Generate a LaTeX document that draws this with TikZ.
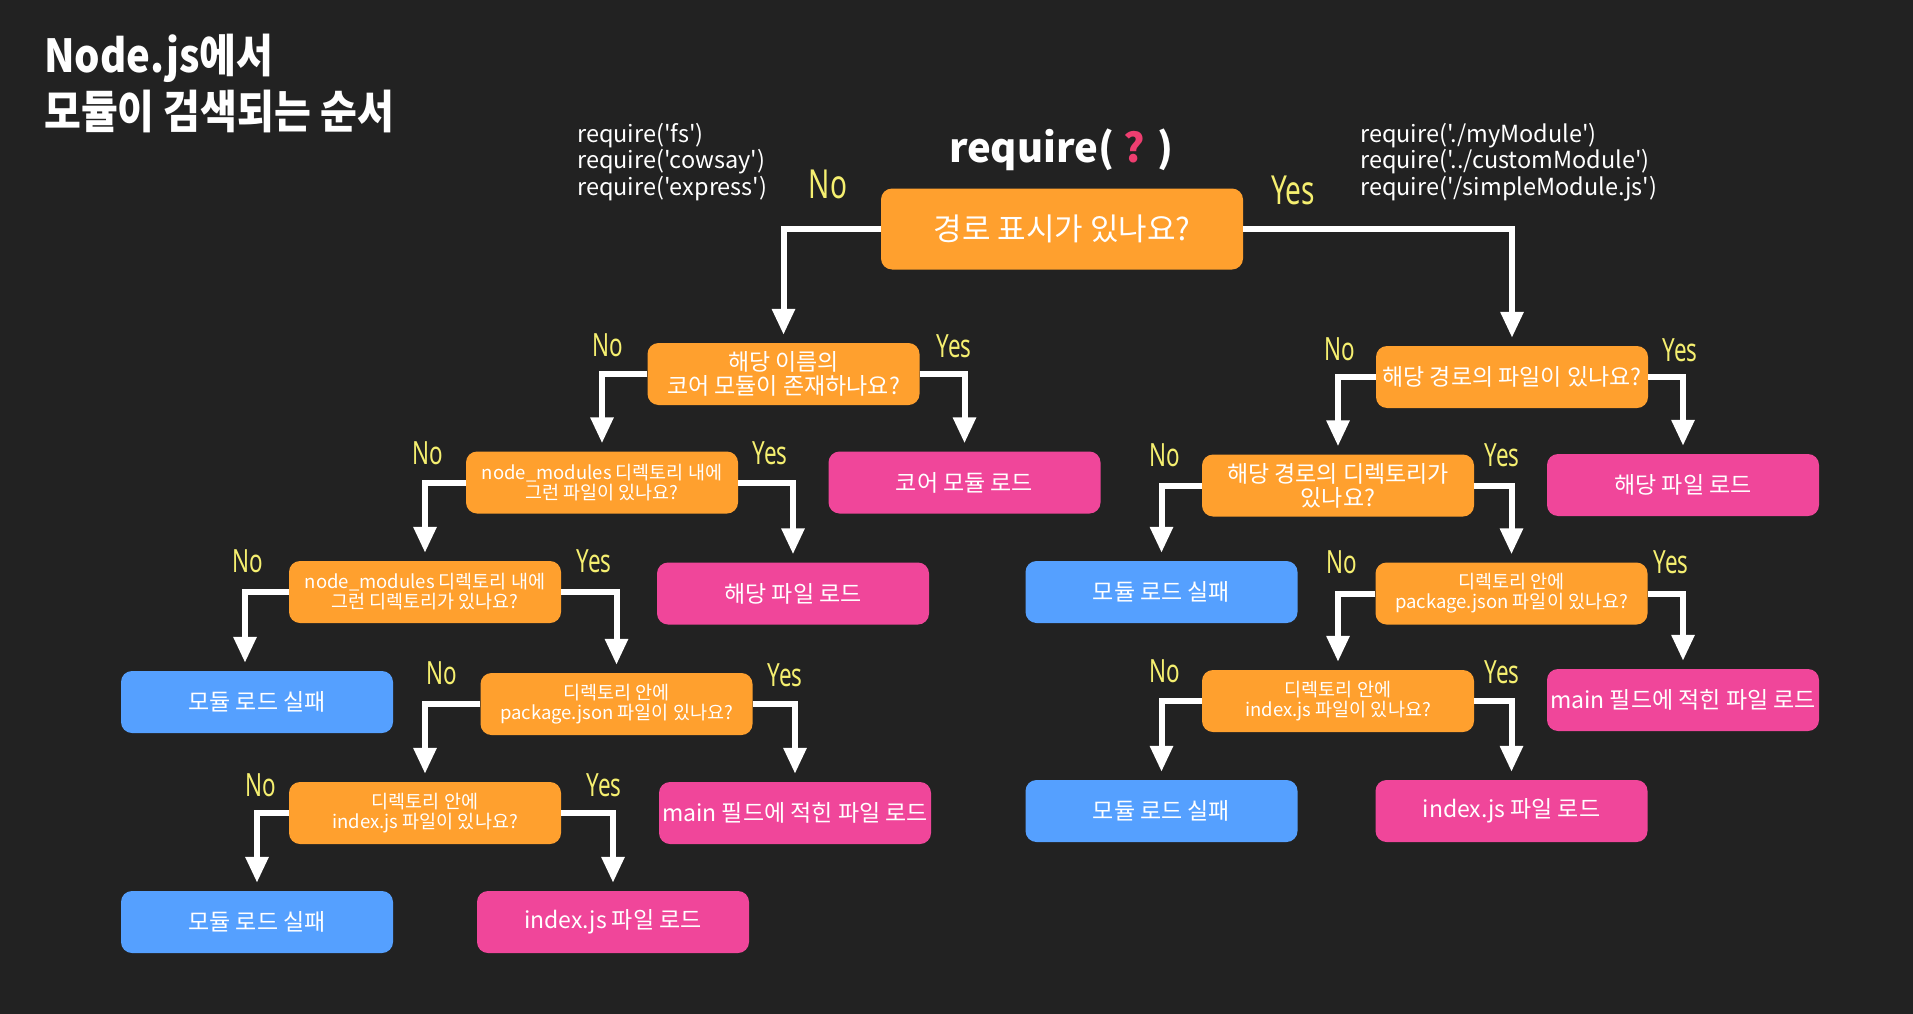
\documentclass[tikz,border=0pt]{standalone}
\usepackage{fontspec}
\usetikzlibrary{arrows.meta}
\newfontfamily\cjk{Noto Sans CJK KR}
\newfontfamily\titlefont[FakeStretch=0.88]{Noto Sans CJK KR}
\newfontfamily\handfont[FakeStretch=0.7]{Noto Sans}
\definecolor{bg}{HTML}{222222}
\definecolor{qor}{HTML}{FFA02E}
\definecolor{pk}{HTML}{F0469A}
\definecolor{bl}{HTML}{55A0FF}
\definecolor{yl}{HTML}{F5EF70}
\definecolor{qm}{HTML}{EE3E70}
\begin{document}
\begin{tikzpicture}[x=1pt,y=-1pt,
  box/.style={rounded corners=11pt, text=white, align=center, inner sep=0pt,
    minimum width=272pt, minimum height=62pt},
  ques/.style={box, fill=qor, font=\cjk\fontsize{23}{24}\selectfont},
  quess/.style={box, fill=qor, font=\cjk\fontsize{18.5}{20}\selectfont},
  res/.style={box, fill=pk, font=\cjk\fontsize{23}{26}\selectfont},
  fail/.style={box, fill=bl, font=\cjk\fontsize{23}{26}\selectfont},
  yn/.style={text=yl, inner sep=0pt, font=\handfont\fontsize{32}{32}\selectfont},
  ynbig/.style={text=yl, inner sep=0pt, font=\handfont\fontsize{40}{40}\selectfont},
  code/.style={text=white, align=left, inner sep=0pt, anchor=west,
    font=\cjk\fontsize{23.5}{26.5}\selectfont},
  arr/.style={draw=white, line width=6pt, -{Triangle[width=22pt,length=26pt]},
    shorten >=8pt}]
\fill[bg] (0,0) rectangle (1913,1014);
\useasboundingbox (0,0) rectangle (1913,1014);

% title
\node[text=white, align=left, anchor=north west, inner sep=0pt,
  font=\titlefont\bfseries\fontsize{45.5}{56}\selectfont] (title) at (44,34)
  {Node.js에서\\모듈이 검색되는 순서};

% top
\node[text=white, inner sep=0pt, font=\cjk\bfseries\fontsize{40}{44}\selectfont]
  (req) at (1061,150) {require( {\color{qm}?} )};
\node[code] (lcode) at (577,162) {require('fs')\\require('cowsay')\\require('express')};
\node[code] (rcode) at (1360,162) {require('./myModule')\\require('../customModule')\\require('/simpleModule.js')};

\node[box, fill=qor, minimum width=362pt, minimum height=81pt,
  font=\cjk\fontsize{31}{34}\selectfont] (q0) at (1062,229) {경로 표시가 있나요?};
\node[ynbig] (q0n) at (828,184) {No};
\node[ynbig] (q0y) at (1293,190) {Yes};

% left branch
\node[ques] (l1) at (783.5,374) {해당 이름의\\코어 모듈이 존재하나요?};
\node[res] (k1) at (964.5,482.5) {코어 모듈 로드};
\node[quess] (l2) at (602,482.5) {node\_modules 디렉토리 내에\\그런 파일이 있나요?};
\node[res] (f1) at (793,593.5) {해당 파일 로드};
\node[quess] (l3) at (425,592) {node\_modules 디렉토리 내에\\그런 디렉토리가 있나요?};
\node[fail] (b1) at (257,702) {모듈 로드 실패};
\node[quess] (l4) at (616.5,704) {디렉토리 안에\\package.json 파일이 있나요?};
\node[res] (m1) at (795,813) {main 필드에 적힌 파일 로드};
\node[quess] (l5) at (425,813) {디렉토리 안에\\index.js 파일이 있나요?};
\node[fail] (b2) at (257,922) {모듈 로드 실패};
\node[res] (i1) at (613,922) {index.js 파일 로드};

% right branch
\node[ques] (r1) at (1512,377) {해당 경로의 파일이 있나요?};
\node[res] (f2) at (1683,485) {해당 파일 로드};
\node[ques] (r2) at (1338,485.5) {해당 경로의 디렉토리가\\있나요?};
\node[fail] (b3) at (1161.5,592) {모듈 로드 실패};
\node[quess] (r3) at (1511.5,593.5) {디렉토리 안에\\package.json 파일이 있나요?};
\node[res] (m2) at (1683,700) {main 필드에 적힌 파일 로드};
\node[quess] (r4) at (1338,701) {디렉토리 안에\\index.js 파일이 있나요?};
\node[fail] (b4) at (1161.5,811) {모듈 로드 실패};
\node[res] (i2) at (1511.5,811) {index.js 파일 로드};

% labels
\node[yn] (l1n) at (608,345) {No};   \node[yn] (l1y) at (954,346) {Yes};
\node[yn] (l2n) at (428,453) {No};   \node[yn] (l2y) at (770,453) {Yes};
\node[yn] (l3n) at (248,561) {No};   \node[yn] (l3y) at (594,561) {Yes};
\node[yn] (l4n) at (442,673) {No};   \node[yn] (l4y) at (785,675) {Yes};
\node[yn] (l5n) at (261,785) {No};   \node[yn] (l5y) at (604,785) {Yes};
\node[yn] (r1n) at (1340,349) {No};  \node[yn] (r1y) at (1680,350) {Yes};
\node[yn] (r2n) at (1165,455) {No};  \node[yn] (r2y) at (1502,455) {Yes};
\node[yn] (r3n) at (1342,562) {No};  \node[yn] (r3y) at (1671,562) {Yes};
\node[yn] (r4n) at (1165,671) {No};  \node[yn] (r4y) at (1502,672) {Yes};

% connectors
\draw[arr] (q0.west) -| (l1.north);
\draw[arr] (q0.east) -| (r1.north);
\draw[arr] (l1.west) -| (l2.north);
\draw[arr] (l1.east) -| (k1.north);
\draw[arr] (l2.west) -| (l3.north);
\draw[arr] (l2.east) -| (f1.north);
\draw[arr] (l3.west) -| ([xshift=-12pt]b1.north);
\draw[arr] (l3.east) -| (l4.north);
\draw[arr] (l4.west) -| (l5.north);
\draw[arr] (l4.east) -| (m1.north);
\draw[arr] (l5.west) -| (b2.north);
\draw[arr] (l5.east) -| (i1.north);
\draw[arr] (r1.west) -| (r2.north);
\draw[arr] (r1.east) -| (f2.north);
\draw[arr] (r2.west) -| (b3.north);
\draw[arr] (r2.east) -| (r3.north);
\draw[arr] (r3.west) -| (r4.north);
\draw[arr] (r3.east) -| (m2.north);
\draw[arr] (r4.west) -| (b4.north);
\draw[arr] (r4.east) -| (i2.north);
\end{tikzpicture}
\end{document}
